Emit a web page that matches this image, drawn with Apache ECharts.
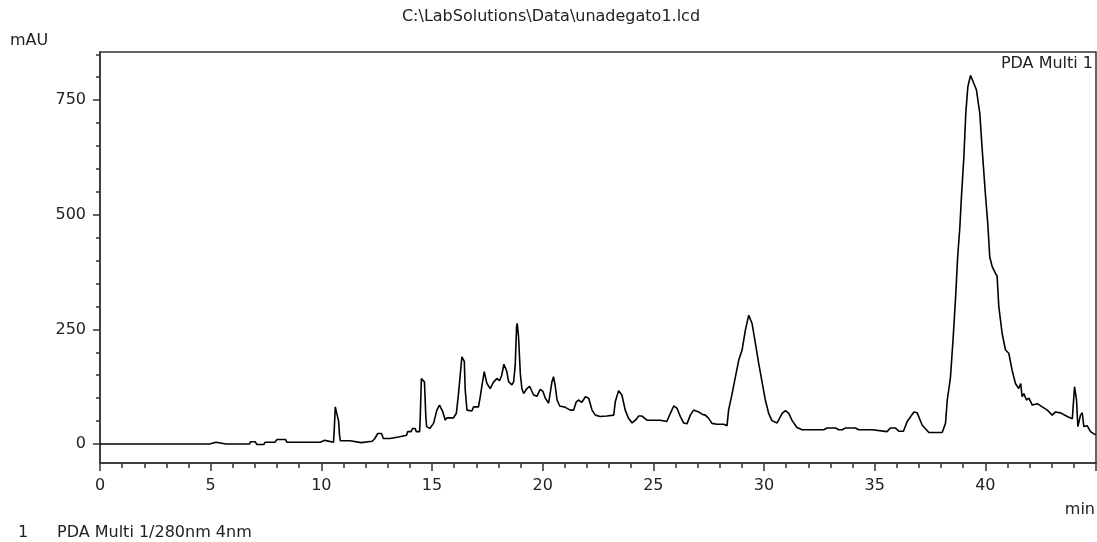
<!DOCTYPE html>
<html><head><meta charset="utf-8">
<script src="https://cdn.jsdelivr.net/npm/echarts@6/dist/echarts.min.js"></script>
<style>html,body{margin:0;padding:0;background:#fff}#c{width:1097px;height:542px}</style>
</head><body><div id="c"></div>
<script>
const times = [0,4.95,4.98,5.24,5.27,5.7,5.73,5.8,6.76,6.8,7.02,7.08,7.4,7.46,7.9,8.0,8.38,8.44,9.95,9.98,10.15,10.2,10.55,10.59,10.63,10.72,10.78,10.82,10.86,11.3,11.38,11.8,11.85,12.3,12.4,12.55,12.72,12.8,13.1,13.18,13.55,13.64,13.85,13.9,14.05,14.13,14.24,14.29,14.44,14.47,14.52,14.6,14.66,14.72,14.76,14.9,14.99,15.07,15.22,15.34,15.49,15.6,15.67,15.97,16.1,16.2,16.35,16.46,16.5,16.58,16.65,16.8,16.88,17.1,17.18,17.25,17.36,17.48,17.63,17.78,17.93,18.05,18.15,18.25,18.38,18.46,18.61,18.69,18.76,18.82,18.85,18.91,18.99,19.06,19.14,19.29,19.41,19.59,19.74,19.89,20.01,20.12,20.27,20.34,20.42,20.49,20.57,20.65,20.77,21.02,21.25,21.4,21.52,21.62,21.77,21.93,22.08,22.23,22.38,22.6,22.9,23.21,23.28,23.43,23.58,23.73,23.88,24.04,24.19,24.34,24.49,24.71,25.02,25.32,25.39,25.61,25.77,25.92,26.07,26.22,26.37,26.52,26.67,26.82,27.05,27.2,27.35,27.5,27.65,27.88,28.18,28.33,28.4,28.56,28.71,28.86,29.01,29.16,29.31,29.46,29.61,29.76,29.91,30.06,30.21,30.36,30.59,30.82,30.97,31.12,31.27,31.49,31.72,32.25,32.7,32.85,33.23,33.38,33.53,33.68,34.13,34.28,34.89,34.96,35.56,35.71,35.94,36.09,36.3,36.47,36.77,36.92,37.15,37.45,38.05,38.2,38.28,38.42,38.54,38.65,38.75,38.85,38.92,39.03,39.12,39.21,39.33,39.45,39.6,39.75,39.85,40.0,40.11,40.2,40.31,40.46,40.53,40.61,40.76,40.91,41.06,41.21,41.36,41.51,41.6,41.66,41.74,41.86,41.97,42.12,42.35,42.57,42.8,43.02,43.17,43.4,43.7,43.93,44.03,44.12,44.18,44.3,44.38,44.45,44.6,44.75,44.98];
const mAU = [0,0,4,4,0,0,4,0,0,5,5,-1,-1,4,4,10,10,4,4,8,8,4,4,37,81,80,50,20,7,7,3,3,6,6,11,23,23,12,12,16,16,19,19,27,27,34,34,27,27,59,143,140,135,60,38,34,36,45,74,85,70,52,57,57,67,111,190,180,118,74,72,72,81,81,103,125,158,132,121,135,143,138,150,174,158,136,129,136,172,255,263,234,154,121,110,121,126,107,104,119,115,100,89,92,136,147,126,96,83,80,74,74,92,96,91,103,100,74,63,60,61,63,92,116,107,74,56,46,52,61,61,52,52,52,56,49,67,83,78,60,46,44,63,74,70,65,63,56,45,43,43,40,74,110,147,183,205,249,281,263,220,176,136,96,67,51,46,67,73,67,51,36,31,31,31,35,35,31,31,35,35,31,31,27,27,35,35,28,28,49,70,68,41,25,25,45,96,143,227,314,408,474,539,626,724,779,804,790,772,721,648,547,481,408,387,372,367,299,241,205,198,161,132,121,132,103,110,96,100,85,88,81,74,63,70,68,60,55,125,96,38,63,68,38,40,27,20];
const yMajorTicks = [0,250,500,750];
const yMinorTicks = [0,50,100,150,200,250,300,350,400,450,500,550,600,650,700,750,800,850];
const titleText = 'C:\\LabSolutions\\Data\\unadegato1.lcd';
const yUnit = 'mAU';
const xUnit = 'min';
const channelName = 'PDA Multi 1';
const legendIndex = '1';
const legendText = 'PDA Multi 1/280nm 4nm';

const FONT = '"DejaVu Sans", sans-serif';
const TXT = '#222';
const AX = '#333';
const chart = echarts.init(document.getElementById('c'), null, {renderer: 'canvas'});
const txt = (o) => Object.assign({type: 'text', style: {}}, o);
chart.setOption({
  animation: false,
  backgroundColor: '#fff',
  grid: {left: 100, right: 1, top: 52, bottom: 79, show: true, borderColor: AX, borderWidth: 1.5, containLabel: false, outerBoundsMode: 'none'},
  xAxis: {
    type: 'value', min: 0, max: 45, interval: 5,
    axisLine: {show: true, onZero: false, lineStyle: {color: AX, width: 1.5}},
    axisTick: {show: true, length: 8, lineStyle: {color: AX, width: 1.5}},
    minorTick: {show: true, splitNumber: 5, length: 5, lineStyle: {color: AX, width: 1.5}},
    axisLabel: {show: true, margin: 15, showMaxLabel: false, color: TXT, fontFamily: FONT, fontSize: 16},
    splitLine: {show: false}, minorSplitLine: {show: false}
  },
  yAxis: [{
    type: 'value', min: -41.4, max: 855,
    axisLine: {show: true, onZero: false, lineStyle: {color: AX, width: 1.5}},
    axisTick: {show: true, length: 7, customValues: yMajorTicks, lineStyle: {color: AX, width: 1.5}},
    axisLabel: {show: true, margin: 14, customValues: yMajorTicks, color: TXT, fontFamily: FONT, fontSize: 16},
    splitLine: {show: false}
  }, {
    type: 'value', min: -41.4, max: 855, position: 'left',
    axisLine: {show: false},
    axisTick: {show: true, length: 4, customValues: yMinorTicks, lineStyle: {color: AX, width: 1.5}},
    axisLabel: {show: false},
    splitLine: {show: false}
  }],
  series: [{
    type: 'line', xAxisIndex: 0, yAxisIndex: 0,
    data: times.map((t, i) => [t, mAU[i]]),
    showSymbol: false, symbol: 'none',
    lineStyle: {color: '#000', width: 1.6},
    silent: true
  }],
  graphic: [
    txt({x: 551, y: 17, style: {text: titleText, font: '16px ' + FONT, fill: TXT, textAlign: 'center', textVerticalAlign: 'middle'}}),
    txt({x: 10, y: 41, style: {text: yUnit, font: '16px ' + FONT, fill: TXT, textAlign: 'left', textVerticalAlign: 'middle'}}),
    txt({x: 1095, y: 510, style: {text: xUnit, font: '16px ' + FONT, fill: TXT, textAlign: 'right', textVerticalAlign: 'middle'}}),
    txt({x: 1093, y: 64, style: {text: channelName, font: '16px ' + FONT, fill: TXT, textAlign: 'right', textVerticalAlign: 'middle'}}),
    txt({x: 18, y: 533, style: {text: legendIndex, font: '16px ' + FONT, fill: TXT, textAlign: 'left', textVerticalAlign: 'middle'}}),
    txt({x: 57, y: 533, style: {text: legendText, font: '16px ' + FONT, fill: TXT, textAlign: 'left', textVerticalAlign: 'middle'}})
  ]
});
</script>
</body></html>
